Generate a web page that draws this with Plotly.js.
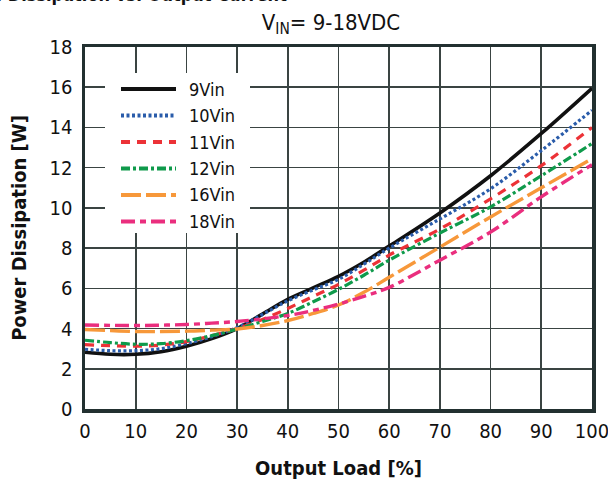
<!DOCTYPE html>
<html>
<head>
<meta charset="utf-8">
<script src="https://cdn.plot.ly/plotly-3.0.1.min.js"></script>
<style>
  html, body { margin: 0; padding: 0; background: #ffffff; }
  #chart { width: 608px; height: 486px; }
</style>
</head>
<body>
<div id="chart"></div>
<script>
// ---- data ----
const loadPct = [0, 5, 10, 15, 20, 25, 30, 35, 40, 45, 50, 55, 60, 70, 80, 90, 100];
const seriesNames = ["9Vin", "10Vin", "11Vin", "12Vin", "16Vin", "18Vin"];
const p9Vin  = [2.82, 2.72, 2.72, 2.85, 3.12, 3.50, 4.00, 4.72, 5.45, 6.02, 6.60, 7.30, 8.10, 9.75, 11.60, 13.70, 15.95];
const p10Vin = [2.97, 2.90, 2.90, 3.00, 3.25, 3.60, 4.05, 4.70, 5.38, 5.92, 6.45, 7.20, 8.00, 9.45, 10.95, 12.85, 14.85];
const p11Vin = [3.20, 3.15, 3.12, 3.18, 3.35, 3.65, 4.00, 4.45, 5.00, 5.60, 6.20, 6.90, 7.65, 8.95, 10.45, 12.10, 14.00];
const p12Vin = [3.42, 3.30, 3.22, 3.25, 3.40, 3.65, 3.98, 4.35, 4.75, 5.33, 5.95, 6.65, 7.40, 8.75, 10.05, 11.60, 13.20];
const p16Vin = [3.95, 3.90, 3.85, 3.85, 3.87, 3.92, 3.98, 4.15, 4.40, 4.75, 5.17, 5.80, 6.55, 8.05, 9.55, 11.00, 12.45];
const p18Vin = [4.18, 4.16, 4.15, 4.17, 4.20, 4.27, 4.35, 4.48, 4.65, 4.90, 5.22, 5.60, 6.05, 7.40, 8.80, 10.55, 12.15];
const xTicks = [0, 10, 20, 30, 40, 50, 60, 70, 80, 90, 100];
const yTicks = [0, 2, 4, 6, 8, 10, 12, 14, 16, 18];

// ---- styles ----
const seriesValues = [p9Vin, p10Vin, p11Vin, p12Vin, p16Vin, p18Vin];
const styles = [
  {color: "#111111", width: 3.6, dash: "solid"},
  {color: "#2a5caa", width: 3.2, dash: "3px,2.5px"},
  {color: "#ec3237", width: 3.2, dash: "9px,7px"},
  {color: "#0f9a4b", width: 3.2, dash: "9px,3px,3px,3px"},
  {color: "#f7983a", width: 3.4, dash: "20px,5px"},
  {color: "#ea2e7e", width: 3.4, dash: "14px,5px,6px,5px"}
];
const FONT = "'DejaVu Sans Condensed', 'DejaVu Sans', sans-serif";

const traces = seriesValues.map((vals, i) => ({
  type: "scatter",
  mode: "lines",
  name: seriesNames[i],
  x: loadPct,
  y: vals,
  line: {color: styles[i].color, width: styles[i].width, dash: styles[i].dash, shape: "spline", smoothing: 1},
  showlegend: false,
  hoverinfo: "x+y+name"
}));

// plot area in pixels: left 85, right 592, top 47, bottom 409
const L = 85, R = 16, T = 47, B = 77, W = 608, H = 486;
const pw = W - L - R, ph = H - T - B;
const px2x = p => (p - L) / pw;
const py2y = p => (H - B - p) / ph;

// manual legend (white box, sample lines, labels)
const shapes = [{
  type: "rect", xref: "paper", yref: "paper", layer: "above",
  x0: px2x(105), x1: px2x(250), y0: py2y(233), y1: py2y(73),
  fillcolor: "#ffffff", line: {width: 0}
}];
const annotations = [];
const rowY = [89, 115.5, 142, 168.5, 195, 221.5];
seriesNames.forEach((nm, i) => {
  shapes.push({
    type: "line", xref: "paper", yref: "paper", layer: "above",
    x0: px2x(121), x1: px2x(176), y0: py2y(rowY[i]), y1: py2y(rowY[i]),
    line: {color: styles[i].color, width: styles[i].width + 0.6, dash: styles[i].dash}
  });
  annotations.push({
    xref: "paper", yref: "paper", x: px2x(187), y: py2y(rowY[i]),
    xanchor: "left", yanchor: "middle", showarrow: false,
    text: nm, font: {family: FONT, size: 18, color: "#111111"}
  });
});
// cut-off figure caption at the very top
annotations.push({
  xref: "paper", yref: "paper", x: px2x(289), y: py2y(-5),
  xanchor: "right", yanchor: "middle", showarrow: false,
  text: "<b>e. Dissipation vs. Output Current</b>",
  font: {family: FONT, size: 18, color: "#111111"}
});

const axisCommon = {
  showline: true, mirror: true, linecolor: "#223030", linewidth: 3.5,
  showgrid: true, gridcolor: "#3a4442", gridwidth: 1.6,
  zeroline: false, ticks: "", fixedrange: true,
  ticklabeloverflow: "allow",
  tickfont: {family: FONT, size: 20, color: "#111111"}
};

const layout = {
  width: W, height: H,
  margin: {l: L, r: R, t: T, b: B},
  paper_bgcolor: "#ffffff", plot_bgcolor: "#ffffff",
  title: {
    text: "V<sub>IN</sub>= 9-18VDC",
    font: {family: FONT, size: 22, color: "#111111"},
    xanchor: "center", xref: "paper",
    y: 1 - 22 / H, yanchor: "middle"
  },
  xaxis: Object.assign({}, axisCommon, {
    range: [0, 100], tickvals: xTicks, ticktext: xTicks.map(String),
    ticklabelstandoff: 1,
    title: {text: "<b>Output Load [%]</b>", font: {family: FONT, size: 20, color: "#111111"}, standoff: 20}
  }),
  yaxis: Object.assign({}, axisCommon, {
    range: [0, 18], tickvals: yTicks, ticktext: yTicks.map(String),
    ticklabelstandoff: 5,
    title: {text: "<b>Power Dissipation [W]</b>", font: {family: FONT, size: 20, color: "#111111"}, standoff: 18}
  }),
  shapes: shapes,
  annotations: annotations,
  showlegend: false
};
layout.title.x = (331 - L) / pw;

Plotly.newPlot("chart", traces, layout, {staticPlot: true, displayModeBar: false});
</script>
</body>
</html>
